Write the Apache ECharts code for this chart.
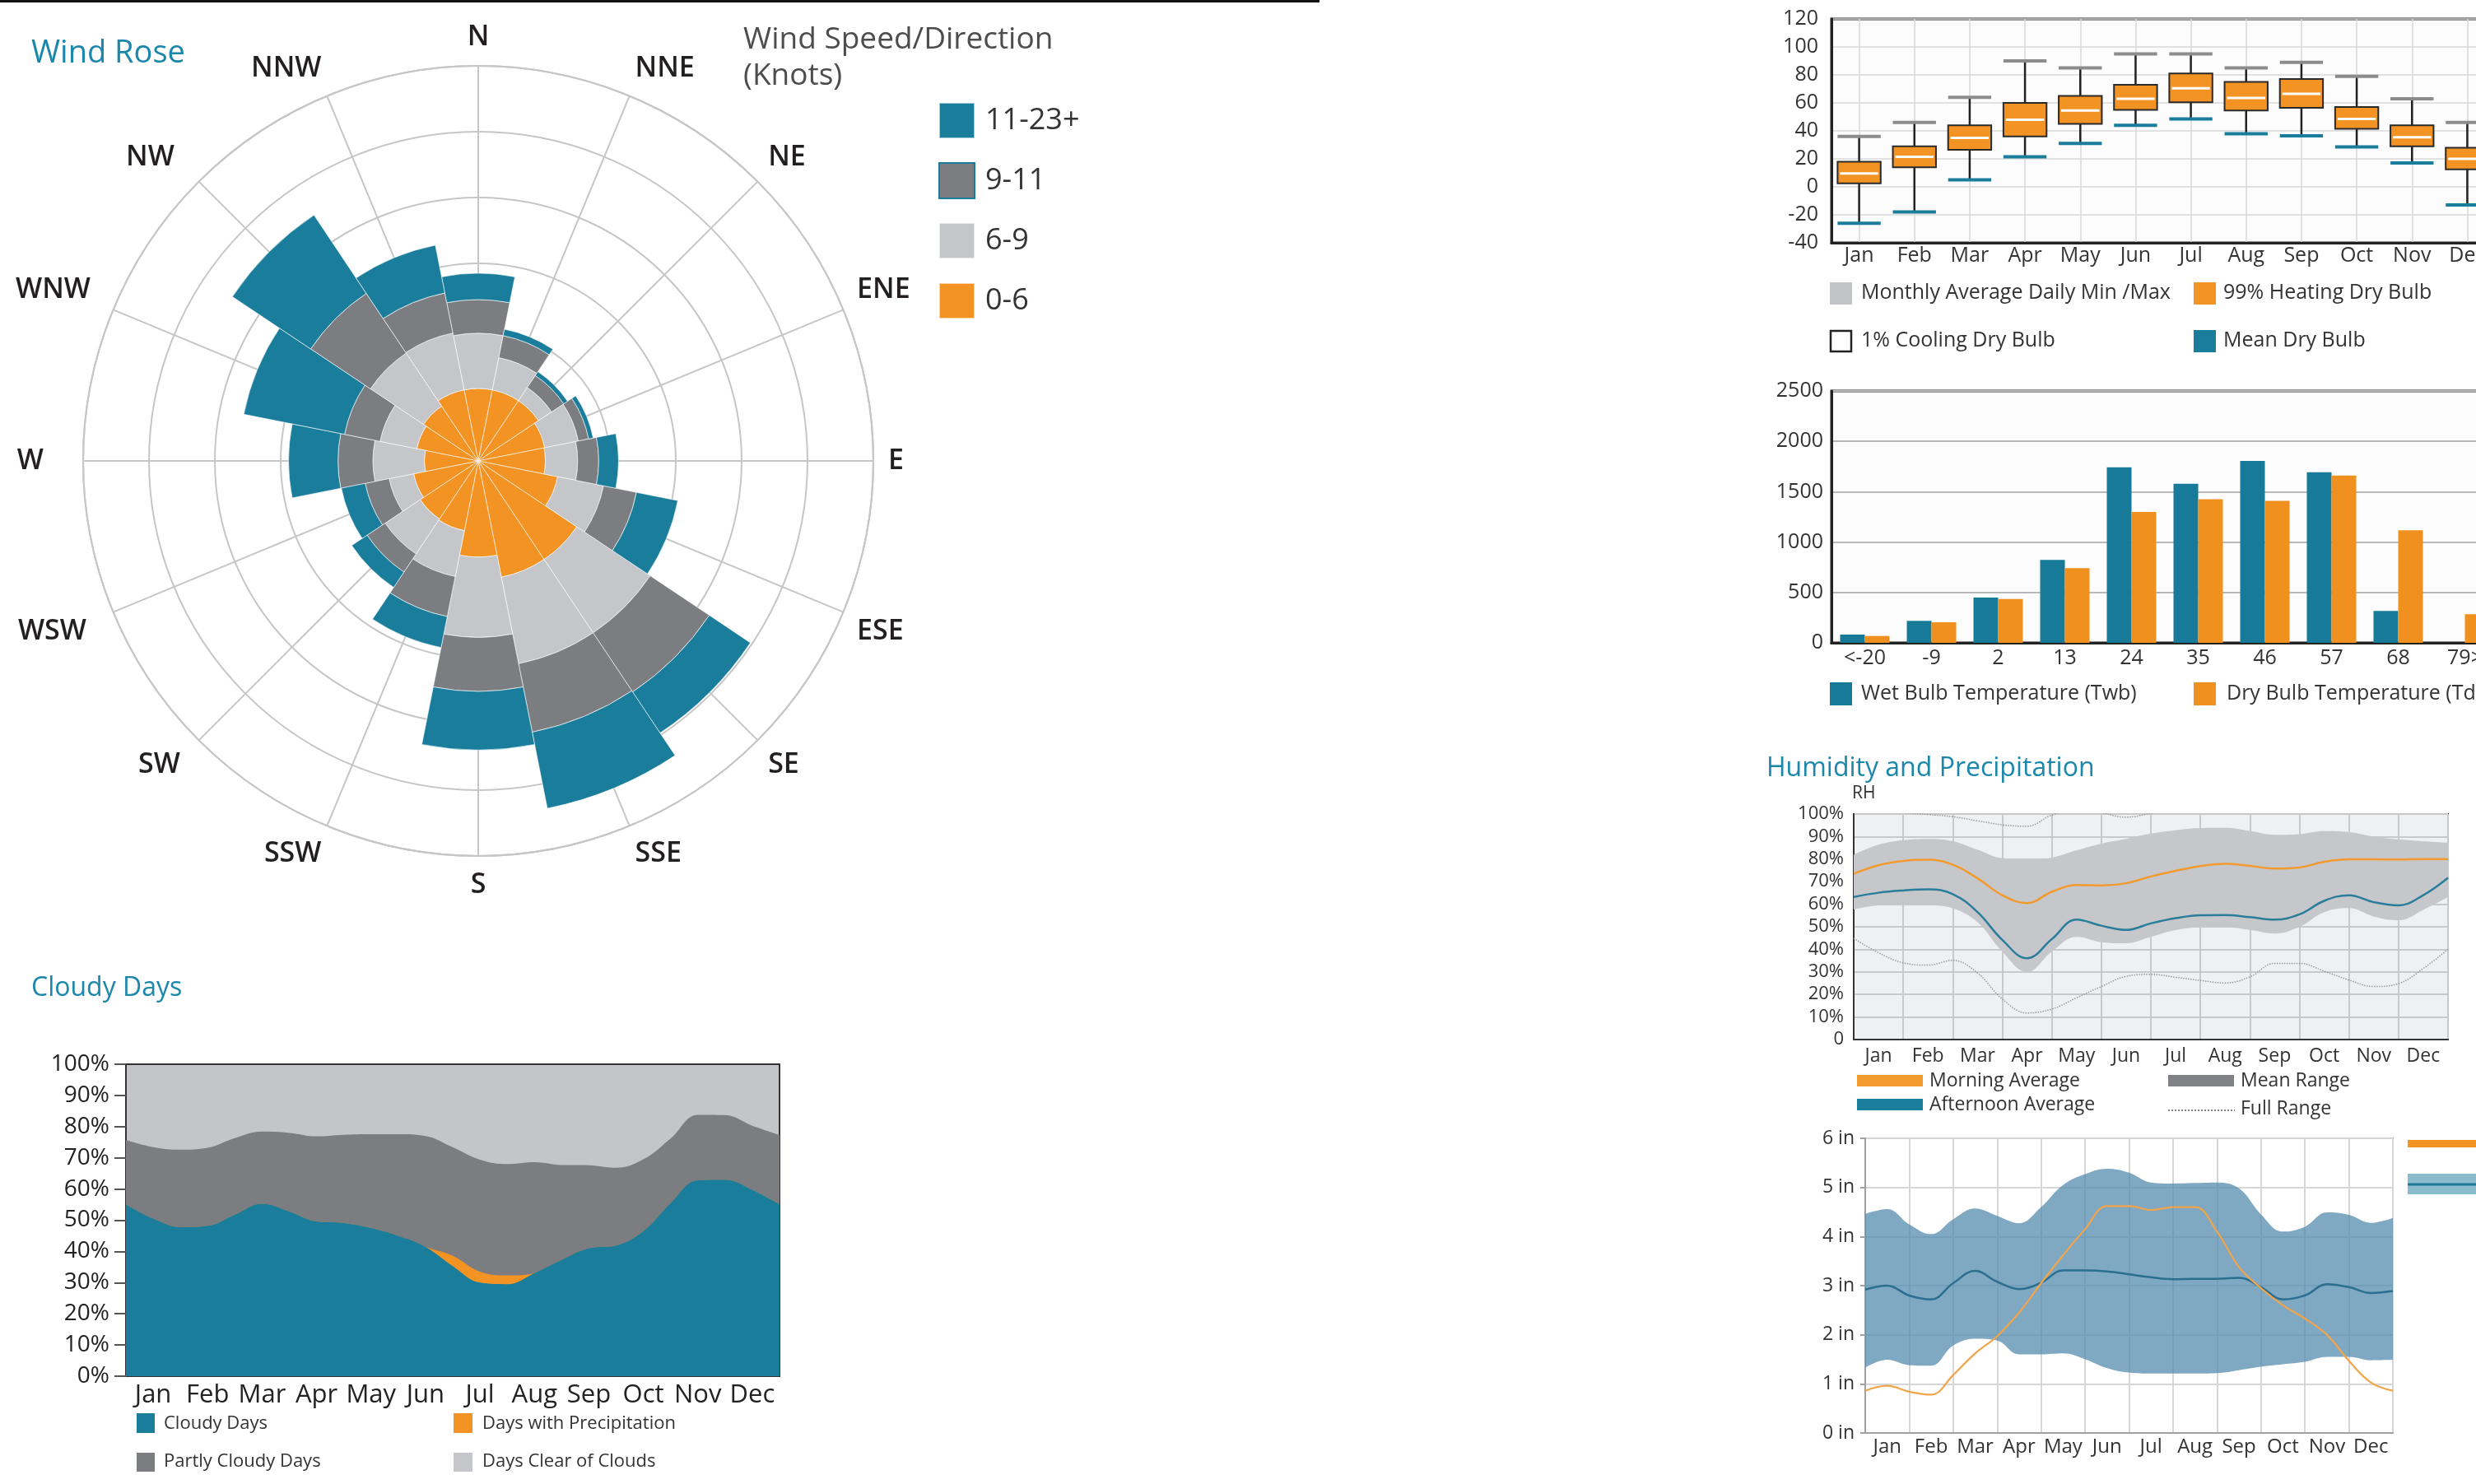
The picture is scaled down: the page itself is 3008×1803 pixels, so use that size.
<!DOCTYPE html>
<html>
<head>
<meta charset="utf-8">
<script src="https://cdn.jsdelivr.net/npm/echarts@6/dist/echarts.min.js"></script>
<style>html,body{margin:0;padding:0;background:#fff;overflow:hidden;width:3008px;height:1803px;}#c{width:3100px;height:1803px;}</style>
</head>
<body>
<div id="c"></div>
<script>
// ---------- Wind rose ----------
var directions = ['N','NNE','NE','ENE','E','ESE','SE','SSE','S','SSW','SW','WSW','W','WNW','NW','NNW'];
var rose0to6   = [1.1,1.1,1.1,1.03,1.02,1.23,1.8,1.8,1.46,1.08,1.06,1.0,0.82,0.95,1.0,1.1];
var rose6to9   = [0.84,0.5,0.24,0.52,0.49,0.71,1.34,1.34,1.22,0.71,0.64,0.38,0.78,0.57,0.97,0.88];
var rose9to11  = [0.51,0.34,0.22,0.16,0.32,0.51,1.08,1.06,0.82,0.62,0.33,0.37,0.53,0.55,1.09,0.62];
var rose11to23 = [0.40,0.10,0.07,0.07,0.30,0.64,0.75,1.18,0.89,0.48,0.28,0.37,0.75,1.56,1.43,0.74];

// ---------- Monthly dry bulb box plot ----------
var months = ['Jan','Feb','Mar','Apr','May','Jun','Jul','Aug','Sep','Oct','Nov','Dec'];
var boxHigh   = [36,46,64,90,85,95,95,85,89,79,63,46];
var boxQ3     = [18,29,44,60,65,73,81,75,77,57,44,28];
var boxMedian = [9.5,21.5,35,48,54.5,63,70.5,63.5,66.5,48.5,35.5,20];
var boxQ1     = [2.5,14,26.5,36,45,55,60.5,54.5,56.5,41.5,29,12.5];
var boxLow    = [-26,-18,5,21.5,31,44,48.5,38,36.5,28.5,17,-13];

// ---------- Temperature bins ----------
var tempBins = ['<-20','-9','2','13','24','35','46','57','68','79>'];
var wetBulb  = [82,218,450,823,1742,1579,1805,1693,316,0];
var dryBulb  = [68,204,436,742,1298,1426,1409,1660,1118,284];

// ---------- Half-month sample positions (Jan start .. Dec end) ----------
var halfMonths = ['0','0.5','1','1.5','2','2.5','3','3.5','4','4.5','5','5.5','6','6.5','7','7.5','8','8.5','9','9.5','10','10.5','11','11.5','12'];

// ---------- Relative humidity ----------
var rhMorning   = [73.5,77.3,79.2,79.7,77.5,71.5,64,60.5,65.5,68.5,68.3,69.3,72.3,74.8,76.9,77.9,77,75.8,76.3,78.8,79.9,79.9,79.8,80,80];
var rhAfternoon = [63.2,65.1,66.1,66.6,64.5,56.5,44.2,36,44.5,53.2,50.5,48.6,51.5,53.8,55.1,55.2,54.3,53.2,55.5,61.5,64,60.9,59.5,64,71.7];
var rhRangeHigh = [82,86.4,88.4,89,88,84.2,80.4,80,80.7,83.9,86.9,89,91.3,92.8,93.8,93.9,92.5,90.8,91.1,92.4,92,90,88.8,88,87.3];
var rhRangeLow  = [57.7,59.5,59.8,59.6,58.2,52,39,30,39,45.5,43.2,42.7,45.5,48.5,49.7,49.8,48.6,47,50,56.5,58.3,54.6,52.9,57.5,63.2];
var rhFullHigh  = [104,102,100.6,99.8,98.8,97,95.2,94.6,99.5,102,100.5,98.6,100.3,102.5,104,104,104,104,104,104,104,104,104,104,104];
var rhFullLow   = [44.9,38.5,34,33,35.1,29.5,18,11.8,13.5,18.5,23.5,28,28.9,27.6,26.2,25.1,27.8,33.8,33.8,30.3,26.4,23.5,24.8,31.5,40];

// ---------- Precipitation (inches) ----------
var prHigh   = [4.46,4.56,4.25,4.05,4.35,4.57,4.42,4.27,4.6,5.05,5.27,5.38,5.3,5.1,5.08,5.09,5.1,4.98,4.45,4.1,4.2,4.49,4.44,4.28,4.38];
var prLow    = [1.33,1.49,1.38,1.37,1.78,1.92,1.88,1.6,1.6,1.62,1.5,1.32,1.23,1.21,1.21,1.21,1.22,1.28,1.35,1.4,1.45,1.55,1.55,1.48,1.49];
var prMean   = [2.92,3.0,2.8,2.72,3.05,3.3,3.08,2.93,3.06,3.31,3.31,3.29,3.23,3.17,3.13,3.14,3.14,3.16,2.97,2.72,2.8,3.03,2.97,2.85,2.89];
var prActual = [0.86,0.96,0.84,0.78,1.18,1.62,1.97,2.45,3.05,3.62,4.15,4.62,4.62,4.54,4.6,4.6,4.1,3.38,2.95,2.6,2.33,2.0,1.47,1.03,0.86];

// ---------- Cloudy days (cumulative boundaries, %) ----------
var cloudyTop = [55.1,50.5,47.8,48.2,51.8,55.3,52.8,49.6,49.1,47.5,45,41.4,35.3,30,29.5,33,37.3,41,41.9,46.5,55.5,62.8,63,59.7,55.1];
var precipTop = [55.1,50.5,47.8,48.2,51.8,55.3,52.8,49.6,49.1,47.5,45,41.4,38.6,33.5,32.3,33,37.3,41,41.9,46.5,55.5,62.8,63,59.7,55.1];
var partlyTop = [75.7,73.4,72.6,73.2,76.3,78.4,78,76.9,77.4,77.6,77.6,77,73.4,69.4,68,68.6,67.7,67.6,66.8,69.5,76.2,83.8,83.7,80.3,77.3];

var FONT = "'Open Sans','Noto Sans',sans-serif";
var TEAL = '#1a7d9c', ORANGE = '#f39323', DGRAY = '#7c7d81', LGRAY = '#c5c6c9';

// extra outward offset (px) for some left-side direction labels
var dirLabelPad = {SW:10, WSW:16, W:30, WNW:11, NW:17};

var chart = echarts.init(document.getElementById('c'), null, {renderer:'canvas', width:3100, height:1803});

function txt(s, x, y, size, color, weight){
  return {type:'text', z:100, style:{text:s, x:x, y:y, font:(weight||'normal')+' '+size+'px '+FONT, fill:color||'#333', verticalAlign:'middle', textVerticalAlign:'middle'}};
}
function box(x, y, w, h, fill, stroke, lw){
  return {type:'rect', z:100, shape:{x:x,y:y,width:w,height:h}, style:{fill:fill, stroke:stroke||null, lineWidth:lw||0}};
}

var boxData = months.map(function(m,i){ return [i, boxLow[i], boxQ1[i], boxMedian[i], boxQ3[i], boxHigh[i]]; });
var dirCategories = directions.map(function(d){
  return dirLabelPad[d] ? {value:d, textStyle:{padding:[0, dirLabelPad[d], 0, 0]}} : d;
});

var option = {
  backgroundColor:'#ffffff',
  animation:false,
  textStyle:{fontFamily:FONT},
  legend:[{
    orient:'vertical', left:1135, top:119, itemWidth:43, itemHeight:43, itemGap:28, icon:'rect', selectedMode:false,
    data:[{name:'11-23+'},{name:'9-11', itemStyle:{borderColor:TEAL, borderWidth:2}},{name:'6-9'},{name:'0-6'}],
    textStyle:{fontSize:36, color:'#333', fontFamily:FONT, padding:[0,0,0,8]}
  }],
  polar:[{center:[581,560], radius:480},{center:[581,560], radius:480}],
  angleAxis:[
    {polarIndex:0, type:'category', data:dirCategories, startAngle:101.25, clockwise:true, z:5,
     axisLine:{show:false}, axisTick:{show:false}, splitLine:{show:false},
     axisLabel:{show:true, interval:0, margin:18, fontSize:34, fontWeight:600, color:'#231f20', fontFamily:FONT}},
    {polarIndex:1, type:'value', min:0, max:360, interval:22.5, startAngle:90, clockwise:true,
     axisLine:{show:true, lineStyle:{color:'#c6c6c6', width:2}}, axisTick:{show:false}, axisLabel:{show:false},
     splitLine:{show:true, lineStyle:{color:'#c6c6c6', width:2}}}
  ],
  radiusAxis:[
    {polarIndex:0, type:'value', min:0, max:6, axisLine:{show:false}, axisTick:{show:false}, axisLabel:{show:false}, splitLine:{show:false}},
    {polarIndex:1, type:'value', min:0, max:6, interval:1, axisLine:{show:false}, axisTick:{show:false}, axisLabel:{show:false},
     splitLine:{show:true, lineStyle:{color:'#c6c6c6', width:2}}}
  ],
  grid:[
    {left:2225, top:23, width:806, height:272, show:true, backgroundColor:'#fcfcfc', borderColor:'#222', borderWidth:3},
    {left:2225, top:475, width:810, height:306, show:true, backgroundColor:'#fdfdfd', borderColor:'#222', borderWidth:3},
    {left:2252, top:989, width:722, height:274, show:true, backgroundColor:'#eff0f2', borderColor:'#333', borderWidth:2},
    {left:2266, top:1383, width:641, height:358, show:true, backgroundColor:'#ffffff', borderColor:'#a0a0a0', borderWidth:2},
    {left:153, top:1293, width:794, height:379, show:true, backgroundColor:'#c4c5c8', borderColor:'#333', borderWidth:2}
  ],
  xAxis:[
    {gridIndex:0, type:'category', data:months, axisLine:{onZero:false, lineStyle:{color:'#222', width:3}}, axisTick:{show:false},
     axisLabel:{interval:0, fontSize:25, color:'#333', margin:3, fontFamily:FONT},
     splitLine:{show:true, interval:0, alignWithLabel:true, lineStyle:{color:'#d8d8d8', width:1.5}}},
    {gridIndex:1, type:'category', data:tempBins, axisLine:{onZero:false, lineStyle:{color:'#222', width:3}}, axisTick:{show:false},
     axisLabel:{interval:0, fontSize:25, color:'#333', margin:6, fontFamily:FONT}, splitLine:{show:false}},
    {gridIndex:2, type:'category', data:months, axisLine:{onZero:false, lineStyle:{color:'#333', width:2}}, axisTick:{show:false},
     axisLabel:{interval:0, fontSize:23, color:'#333', margin:9, fontFamily:FONT}, splitLine:{show:true, interval:0, lineStyle:{color:'#c8c9cb', width:2}}},
    {gridIndex:2, type:'category', data:halfMonths, boundaryGap:false, show:false},
    {gridIndex:3, type:'category', data:months, axisLine:{onZero:false, lineStyle:{color:'#a0a0a0', width:2}}, axisTick:{show:false},
     axisLabel:{interval:0, fontSize:24, color:'#333', margin:5, fontFamily:FONT}, splitLine:{show:true, interval:0, lineStyle:{color:'#d6d6d6', width:2}}},
    {gridIndex:3, type:'category', data:halfMonths, boundaryGap:false, show:false},
    {gridIndex:4, type:'category', data:months, axisLine:{onZero:false, lineStyle:{color:'#333', width:2}}, axisTick:{show:false},
     axisLabel:{interval:0, fontSize:31, color:'#222', margin:8, fontFamily:FONT}, splitLine:{show:false}},
    {gridIndex:4, type:'category', data:halfMonths, boundaryGap:false, show:false}
  ],
  yAxis:[
    {gridIndex:0, type:'value', min:-40, max:120, interval:20, axisLine:{show:true, lineStyle:{color:'#222', width:3}}, axisTick:{show:false},
     axisLabel:{fontSize:25, color:'#333', margin:16, fontFamily:FONT}, splitLine:{lineStyle:{color:'#d8d8d8', width:1.5}}},
    {gridIndex:1, type:'value', min:0, max:2500, interval:500, axisLine:{show:true, lineStyle:{color:'#222', width:3}}, axisTick:{show:false},
     axisLabel:{fontSize:25, color:'#333', margin:10, fontFamily:FONT, formatter:function(v){return String(v);}}, splitLine:{lineStyle:{color:'#b8b8b8', width:2}}},
    {gridIndex:2, type:'value', min:0, max:100, interval:10, axisLine:{show:true, lineStyle:{color:'#333', width:2}}, axisTick:{show:false},
     axisLabel:{fontSize:22, color:'#333', margin:12, fontFamily:FONT, formatter:function(v){return v===0?'0':v+'%';}},
     splitLine:{lineStyle:{color:'#c8c9cb', width:2}}},
    {gridIndex:3, type:'value', min:0, max:6, interval:1, axisLine:{show:true, lineStyle:{color:'#a0a0a0', width:2}},
     axisTick:{show:true, length:6, lineStyle:{color:'#a0a0a0', width:2}},
     axisLabel:{fontSize:23, color:'#333', margin:13, fontFamily:FONT, formatter:function(v){return v+' in';}},
     splitLine:{lineStyle:{color:'#d6d6d6', width:2}}},
    {gridIndex:4, type:'value', min:0, max:100, interval:10, axisLine:{show:true, lineStyle:{color:'#333', width:2}},
     axisTick:{show:true, length:14, lineStyle:{color:'#555', width:2}},
     axisLabel:{fontSize:28, color:'#222', margin:20, fontFamily:FONT, formatter:function(v){return v+'%';}},
     splitLine:{show:false}}
  ],
  series:[
    // wind rose
    {name:'0-6', type:'bar', coordinateSystem:'polar', polarIndex:0, stack:'wind', barCategoryGap:'0%', data:rose0to6,
     itemStyle:{color:ORANGE, borderColor:'rgba(255,255,255,0.6)', borderWidth:1}},
    {name:'6-9', type:'bar', coordinateSystem:'polar', polarIndex:0, stack:'wind', barCategoryGap:'0%', data:rose6to9,
     itemStyle:{color:LGRAY, borderColor:'rgba(255,255,255,0.6)', borderWidth:1}},
    {name:'9-11', type:'bar', coordinateSystem:'polar', polarIndex:0, stack:'wind', barCategoryGap:'0%', data:rose9to11,
     itemStyle:{color:DGRAY, borderColor:'rgba(255,255,255,0.6)', borderWidth:1}},
    {name:'11-23+', type:'bar', coordinateSystem:'polar', polarIndex:0, stack:'wind', barCategoryGap:'0%', data:rose11to23,
     itemStyle:{color:TEAL, borderColor:'rgba(255,255,255,0.6)', borderWidth:1}},
    // box plot
    {name:'Dry Bulb Box', type:'custom', xAxisIndex:0, yAxisIndex:0, data:boxData, encode:{x:0, y:[1,2,3,4,5]}, z:5,
     renderItem:function(params, api){
       var x = api.value(0);
       var pLow = api.coord([x, api.value(1)]);
       var pQ1 = api.coord([x, api.value(2)]);
       var pMed = api.coord([x, api.value(3)]);
       var pQ3 = api.coord([x, api.value(4)]);
       var pHigh = api.coord([x, api.value(5)]);
       var bw = api.size([1,0])[0]*0.78;
       var cx = pLow[0];
       return {type:'group', children:[
         {type:'line', shape:{x1:cx,y1:pHigh[1],x2:cx,y2:pLow[1]}, style:{stroke:'#222',lineWidth:2.5}},
         {type:'rect', shape:{x:cx-bw/2,y:pQ3[1],width:bw,height:pQ1[1]-pQ3[1]}, style:{fill:ORANGE,stroke:'#2a2a2a',lineWidth:2}},
         {type:'line', shape:{x1:cx-bw/2+3,y1:pMed[1],x2:cx+bw/2-3,y2:pMed[1]}, style:{stroke:'#ffffff',lineWidth:3}},
         {type:'line', shape:{x1:cx-bw/2,y1:pHigh[1],x2:cx+bw/2,y2:pHigh[1]}, style:{stroke:'#8c8c8c',lineWidth:4}},
         {type:'line', shape:{x1:cx-bw/2,y1:pLow[1],x2:cx+bw/2,y2:pLow[1]}, style:{stroke:TEAL,lineWidth:4}}
       ]};
     }},
    // temperature bins
    {name:'Wet Bulb Temperature (Twb)', type:'bar', xAxisIndex:1, yAxisIndex:1, data:wetBulb, barWidth:30, barGap:'0%', itemStyle:{color:'#187a99'}},
    {name:'Dry Bulb Temperature (Tdb)', type:'bar', xAxisIndex:1, yAxisIndex:1, data:dryBulb, barWidth:30, barGap:'0%', itemStyle:{color:'#f0901f'}},
    // humidity
    {name:'rhBase', type:'line', xAxisIndex:3, yAxisIndex:2, stack:'mr', data:rhRangeLow, smooth:0.4, symbol:'none', silent:true, lineStyle:{opacity:0}},
    {name:'Mean Range', type:'line', xAxisIndex:3, yAxisIndex:2, stack:'mr', data:rhRangeHigh.map(function(v,i){return v-rhRangeLow[i];}),
     smooth:0.4, symbol:'none', lineStyle:{opacity:0}, areaStyle:{color:'#c6c7ca', opacity:1}},
    {name:'Full Range High', type:'line', xAxisIndex:3, yAxisIndex:2, data:rhFullHigh, smooth:0.4, symbol:'none', clip:true,
     lineStyle:{color:'#9a9a9a', width:1.5, type:'dotted'}},
    {name:'Full Range Low', type:'line', xAxisIndex:3, yAxisIndex:2, data:rhFullLow, smooth:0.4, symbol:'none',
     lineStyle:{color:'#9a9a9a', width:1.5, type:'dotted'}},
    {name:'Morning Average', type:'line', xAxisIndex:3, yAxisIndex:2, data:rhMorning, smooth:0.4, symbol:'none',
     lineStyle:{color:'#f39a2e', width:2.5}},
    {name:'Afternoon Average', type:'line', xAxisIndex:3, yAxisIndex:2, data:rhAfternoon, smooth:0.4, symbol:'none',
     lineStyle:{color:'#2b7d9c', width:2.5}},
    // precipitation
    {name:'prBase', type:'line', xAxisIndex:5, yAxisIndex:3, stack:'pr', data:prLow, smooth:0.4, symbol:'none', silent:true, lineStyle:{opacity:0}},
    {name:'Precipitation Range', type:'line', xAxisIndex:5, yAxisIndex:3, stack:'pr', data:prHigh.map(function(v,i){return v-prLow[i];}),
     smooth:0.4, symbol:'none', lineStyle:{opacity:0}, areaStyle:{color:'rgba(84,139,175,0.75)', opacity:1}},
    {name:'Mean Precipitation', type:'line', xAxisIndex:5, yAxisIndex:3, data:prMean, smooth:0.4, symbol:'none',
     lineStyle:{color:'#2a6f8f', width:2.5}},
    {name:'Precipitation', type:'line', xAxisIndex:5, yAxisIndex:3, data:prActual, smooth:0.4, symbol:'none',
     lineStyle:{color:'#f2a44b', width:2.2}},
    // cloudy days
    {name:'Partly Cloudy Days', type:'line', xAxisIndex:7, yAxisIndex:4, data:partlyTop, smooth:0.4, symbol:'none',
     lineStyle:{opacity:0}, areaStyle:{color:DGRAY, opacity:1}},
    {name:'Days with Precipitation', type:'line', xAxisIndex:7, yAxisIndex:4, data:precipTop, smooth:0.4, symbol:'none',
     lineStyle:{opacity:0}, areaStyle:{color:ORANGE, opacity:1}},
    {name:'Cloudy Days', type:'line', xAxisIndex:7, yAxisIndex:4, data:cloudyTop, smooth:0.4, symbol:'none',
     lineStyle:{opacity:0}, areaStyle:{color:TEAL, opacity:1}}
  ],
  graphic:[
    box(0,0,1603,3,'#111'),
    txt('Wind Rose', 38, 65, 38, '#1b87ab', 500),
    txt('Wind Speed/Direction', 903, 48, 37, '#4d4d4f'),
    txt('(Knots)', 903, 92, 37, '#4d4d4f'),
    txt('Cloudy Days', 38, 1201, 32, '#1b87ab', 500),
    txt('Humidity and Precipitation', 2146, 934, 32, '#1b87ab', 500),
    txt('RH', 2250, 964, 21, '#333'),
    // box plot legend
    box(2223,343,27,27,'#c3c4c7'), txt('Monthly Average Daily Min /Max', 2261, 356, 25, '#333'),
    box(2665,343,27,27,ORANGE), txt('99% Heating Dry Bulb', 2701, 356, 25, '#333'),
    box(2224,402,25,25,'#ffffff','#222',2.5), txt('1% Cooling Dry Bulb', 2261, 414, 25, '#333'),
    box(2665,401,27,27,TEAL), txt('Mean Dry Bulb', 2701, 414, 25, '#333'),
    // bins legend
    box(2223,829,27,28,'#187a99'), txt('Wet Bulb Temperature (Twb)', 2261, 843, 25, '#333'),
    box(2665,829,27,28,'#f0901f'), txt('Dry Bulb Temperature (Tdb)', 2705, 843, 25, '#333'),
    // humidity legend
    box(2256,1306,80,14,'#f39a2e'), txt('Morning Average', 2344, 1313, 23, '#333'),
    box(2256,1335,80,14,TEAL), txt('Afternoon Average', 2344, 1342, 23, '#333'),
    box(2634,1306,80,14,'#808184'), txt('Mean Range', 2722, 1313, 23, '#333'),
    {type:'line', z:100, shape:{x1:2634,y1:1349,x2:2715,y2:1349}, style:{stroke:'#555', lineWidth:1.5, lineDash:[2,2]}},
    txt('Full Range', 2722, 1347, 23, '#333'),
    // precipitation legend
    box(2925,1385,90,9,'#f39323'),
    box(2925,1426,90,25,'#8bbccd'),
    {type:'line', z:101, shape:{x1:2925,y1:1439,x2:3015,y2:1439}, style:{stroke:'#1f7895', lineWidth:3}},
    // cloudy legend
    box(166,1717,22,24,TEAL), txt('Cloudy Days', 199, 1730, 22, '#333'),
    box(551,1717,23,24,ORANGE), txt('Days with Precipitation', 586, 1730, 22, '#333'),
    box(166,1765,22,23,DGRAY), txt('Partly Cloudy Days', 199, 1776, 22, '#333'),
    box(551,1765,23,23,LGRAY), txt('Days Clear of Clouds', 586, 1776, 22, '#333')
  ]
};
chart.setOption(option);
</script>
</body>
</html>
